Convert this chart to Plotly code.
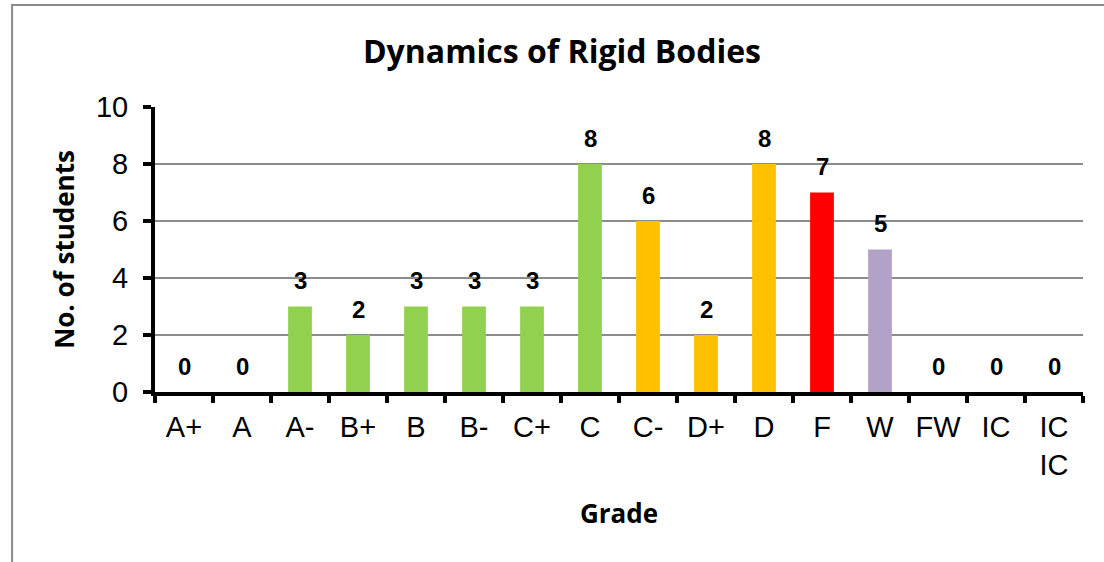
import plotly.graph_objects as go

grades = ["A+", "A", "A-", "B+", "B", "B-", "C+", "C", "C-", "D+", "D", "F", "W", "FW", "IC", "IC<br>IC"]
students = [0, 0, 3, 2, 3, 3, 3, 8, 6, 2, 8, 7, 5, 0, 0, 0]
colors = ["#92D050"] * 8 + ["#FFC000"] * 3 + ["#FF0000", "#B2A2C7", "#92D050", "#92D050", "#92D050"]
y_ticks = [0, 2, 4, 6, 8, 10]

fig = go.Figure()
fig.add_trace(go.Bar(x=grades, y=students, marker=dict(color=colors, line=dict(width=0)), width=0.41))

for g, v in zip(grades, students):
    fig.add_annotation(x=g, y=v, text="<b>%d</b>" % v, showarrow=False, yshift=26,
                       font=dict(family="Liberation Sans, Arial", size=24, color="black"))

fig.add_shape(type="rect", xref="paper", yref="paper", x0=-0.154, x1=1.3, y0=-1.0, y1=1.358,
              line=dict(color="#8a8a8a", width=2), layer="below")

fig.update_layout(
    width=1104, height=562,
    margin=dict(l=155, r=21, t=107, b=170),
    paper_bgcolor="white", plot_bgcolor="white",
    showlegend=False,
    title=dict(text="<b>Dynamics of Rigid Bodies</b>", x=0.509, xanchor="center", y=0.907, yanchor="middle",
               font=dict(family="Open Sans", size=32, color="black")),
    xaxis=dict(
        type="category",
        showline=True, linecolor="black", linewidth=4,
        ticks="outside", tickson="boundaries", ticklen=7, tickwidth=4, tickcolor="black",
        tickfont=dict(family="Liberation Sans, Arial", size=29, color="black"),
        ticklabelstandoff=6,
        title=dict(text="<b>Grade</b>", font=dict(family="Open Sans", size=26, color="black"), standoff=26),
        showgrid=False,
    ),
    yaxis=dict(
        range=[0, 10], tickvals=y_ticks,
        showline=True, linecolor="black", linewidth=4,
        ticks="outside", ticklen=8, tickwidth=4, tickcolor="black",
        tickfont=dict(family="Liberation Sans, Arial", size=29, color="black"),
        ticklabelstandoff=9,
        showgrid=True, gridcolor="#8c8c8c", gridwidth=1.5,
        title=dict(text="<b>No. of students</b>", font=dict(family="Open Sans", size=26, color="black"), standoff=15),
        zeroline=False,
    ),
    bargap=0.59,
)

fig.write_html("out.html", config={"displayModeBar": False},
               post_script="document.body.style.margin='0';")
